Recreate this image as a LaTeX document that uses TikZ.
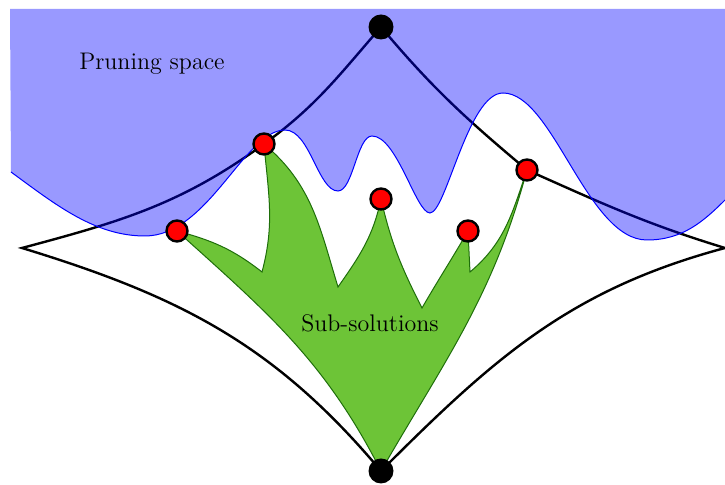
\documentclass[tikz,border=0pt]{standalone}
\usepackage{xcolor}
\usepackage{tikz}
\usetikzlibrary{positioning}
\definecolor{leaf}{HTML}{6DC437}
\definecolor{leafedge}{HTML}{1E6E0A}
\definecolor{prune}{HTML}{0000FF}
% lower border of the pruning space
\def\prunewave{(11,-172) .. controls +(45,-33) and +(-50,0) .. (145,-236)
  .. controls +(63,0) and +(-40,0) .. (285,-130)
  .. controls +(25,0) and +(-20,0) .. (338,-191)
  .. controls +(15,0) and +(-15,0) .. (372,-136)
  .. controls +(25,0) and +(-14,0) .. (430,-213)
  .. controls +(16,0) and +(-35,0) .. (503,-93)
  .. controls +(50,0) and +(-60,0) .. (647,-240)
  .. controls +(35,0) and +(-22,-22) .. (725,-200)}

\begin{document}
\begin{tikzpicture}[x=0.5pt,y=0.5pt,
   nd/.style={circle,fill=#1,inner sep=0pt,minimum size=12.5pt},
   sub/.style={circle,fill=red,draw=black,very thick,inner sep=0pt,minimum size=10.5pt},
   space/.style={black,very thick}]
  \useasboundingbox (0,0) rectangle (725,-485);
  % corners of the search space
  \coordinate (top) at (381,-27);
  \coordinate (bot) at (381,-471);
  \coordinate (lt) at (22,-248);
  \coordinate (rt) at (725,-248);
  % sub-solution tips and notches
  \coordinate (s1) at (177,-231);
  \coordinate (s2) at (264,-144);
  \coordinate (s3) at (381,-199);
  \coordinate (s4) at (468,-231);
  \coordinate (s5) at (527,-170);
  \coordinate (n1) at (262,-272);
  \coordinate (n2) at (338,-287);
  \coordinate (n3) at (422,-308);
  \coordinate (n4) at (470,-272);
  % sub-solutions
  \filldraw[fill=leaf,draw=leafedge,line width=0.5pt]
    (bot) to[out=117,in=-42] (s1) to[out=-15,in=142] (n1)
    to[out=75,in=-85] (s2) to[out=-40,in=107] (n2)
    to[out=55,in=-102] (s3) to[out=-77,in=117] (n3)
    to[out=60,in=240] (s4) -- (n4)
    to[out=40,in=-109] (s5) to[out=-105,in=60] (bot) -- cycle;
  % search space
  \draw[space] (lt) to[out=15,in=216] (s2) to[out=36,in=229] (top)
    to[out=-50,in=140] (s5) to[out=-24,in=163] (rt)
    to[out=195,in=45] (bot) to[out=130,in=-17] (lt) -- cycle;
  % pruning space
  \fill[prune,fill opacity=0.4] \prunewave -- (725,-9) -- (10,-9) -- cycle;
  \draw[prune,line width=0.5pt] \prunewave;
  \node[nd=black] (T) at (top) {};
  \node[nd=black] (B) at (bot) {};
  \foreach \k in {1,...,5}
    \node[sub] (d\k) at (s\k) {};
  \node[font=\large] (pl) at (152,-64) {Pruning space};
  \node[font=\large] (sl) at (370,-323) {Sub-solutions};
\end{tikzpicture}
\end{document}
